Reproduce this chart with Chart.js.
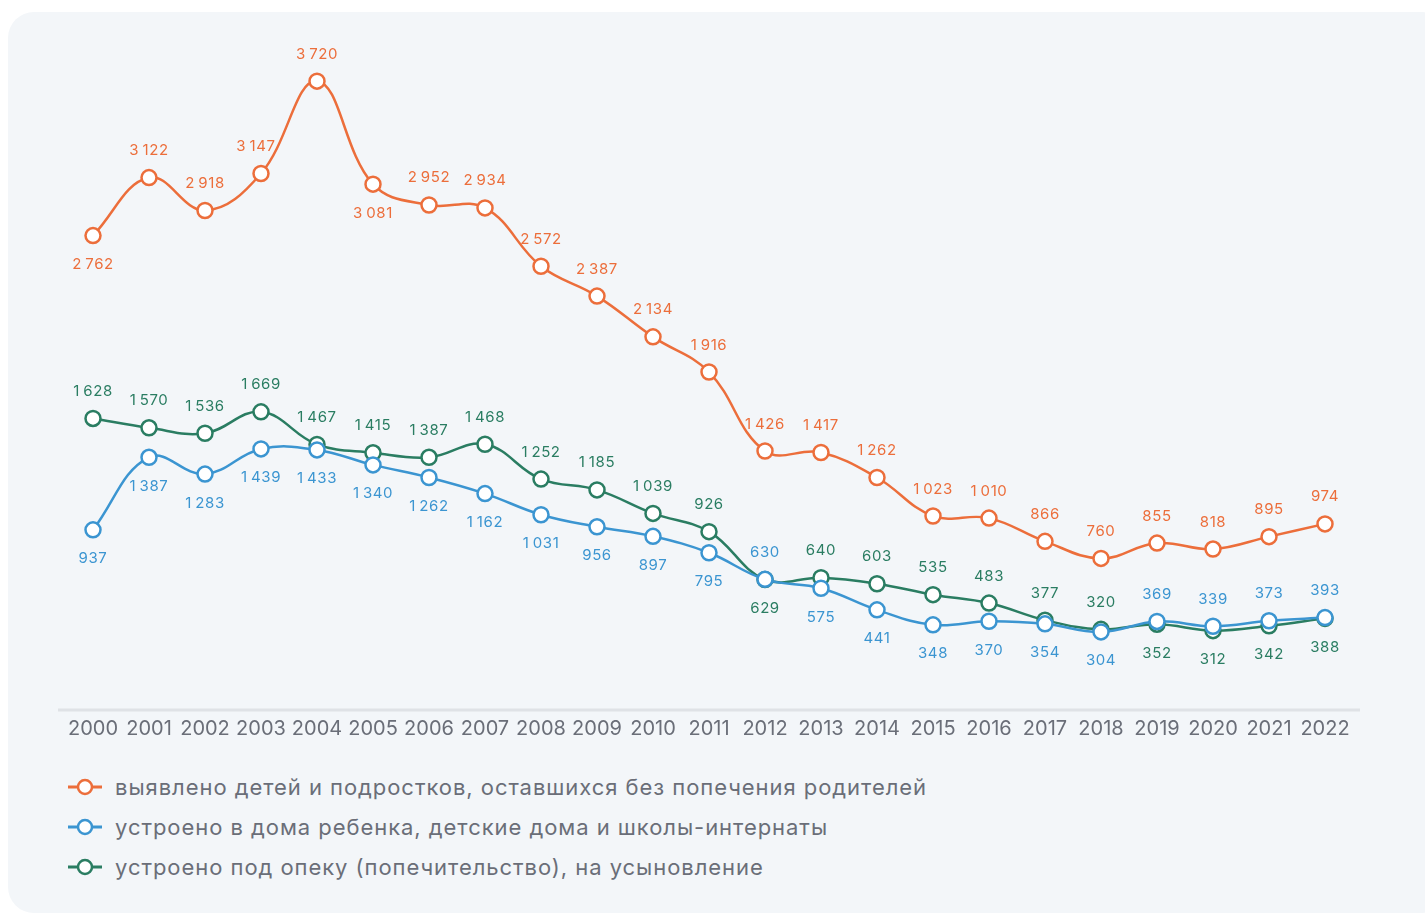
<!DOCTYPE html>
<html>
<head>
<meta charset="utf-8">
<script src="https://cdn.jsdelivr.net/npm/chart.js@4.4.1/dist/chart.umd.min.js"></script>
<style>
  html, body { margin:0; padding:0; background:#ffffff; width:1425px; height:914px; overflow:hidden; font-family: Inter, "Noto Sans", sans-serif; }
  #panel { position:absolute; left:8px; top:12px; width:1440px; height:901px; border-radius:26px; background:#f3f6f9; }
  #wrap { position:absolute; left:0; top:0; width:1425px; height:760px; }
  #legend { position:absolute; left:68px; top:767px; }
  .item { display:flex; align-items:center; height:40px; font-size:22px; color:#6a6e78; letter-spacing:0.95px; }
  .item svg { margin-right:13px; }
</style>
</head>
<body>
<div id="panel"></div>
<div id="wrap"><canvas id="c"></canvas></div>
<div id="legend"></div>
<script>
const years = ['2000','2001','2002','2003','2004','2005','2006','2007','2008','2009','2010','2011','2012','2013','2014','2015','2016','2017','2018','2019','2020','2021','2022'];
const identified = [2762,3122,2918,3147,3720,3081,2952,2934,2572,2387,2134,1916,1426,1417,1262,1023,1010,866,760,855,818,895,974];
const institutions = [937,1387,1283,1439,1433,1340,1262,1162,1031,956,897,795,630,575,441,348,370,354,304,369,339,373,393];
const guardianship = [1628,1570,1536,1669,1467,1415,1387,1468,1252,1185,1039,926,629,640,603,535,483,377,320,352,312,342,388];
const seriesNames = [
  'выявлено детей и подростков, оставшихся без попечения родителей',
  'устроено в дома ребенка, детские дома и школы-интернаты',
  'устроено под опеку (попечительство), на усыновление'
];
const colors = ['#ec6e3b', '#3b95d1', '#2a7d62'];

// label placement (u = above, d = below)
const placeOrange = 'duuuuduuuuuuuuuuuuuuuuu';
const placeBlue   = 'ddddddddddddudddddduuuu';
const placeGreen  = 'uuuuuuuuuuuuduuuuuudddd';
const placements = [placeOrange, placeBlue, placeGreen];

function fmt(v){ return String(v).replace(/\B(?=(\d{3})+(?!\d))/g, '\u2009'); }

const labelPlugin = {
  id: 'pointLabels',
  afterDatasetsDraw(chart) {
    const ctx = chart.ctx;
    ctx.save();
    ctx.font = '15px Inter, "Noto Sans", sans-serif';
    try { ctx.letterSpacing = '0.6px'; } catch(e) {}
    ctx.textAlign = 'center';
    ctx.textBaseline = 'middle';
    chart.data.datasets.forEach((ds, di) => {
      const meta = chart.getDatasetMeta(di);
      ctx.fillStyle = ds.borderColor;
      meta.data.forEach((pt, i) => {
        const up = placements[di][i] === 'u';
        const dy = up ? -27 : 29;
        let dx = 0;
        if (di === 0 && i === 3) dx = -5;
        ctx.fillText(fmt(ds.data[i]), pt.x + dx, pt.y + dy);
      });
    });
    ctx.restore();
  }
};

const axisLinePlugin = {
  id: 'axisLine',
  beforeDatasetsDraw(chart) {
    const a = chart.chartArea;
    const ctx = chart.ctx;
    ctx.save();
    ctx.strokeStyle = '#dfe2e6';
    ctx.lineWidth = 3;
    ctx.beginPath();
    ctx.moveTo(a.left - 35, a.bottom + 1);
    ctx.lineTo(a.right + 35, a.bottom + 1);
    ctx.stroke();
    ctx.restore();
  }
};

const dataArrays = [identified, institutions, guardianship];
const datasets = dataArrays.map((arr, i) => ({
  label: seriesNames[i],
  data: arr,
  borderColor: colors[i],
  backgroundColor: '#ffffff',
  pointBackgroundColor: '#ffffff',
  pointBorderColor: colors[i],
  pointRadius: 7.5,
  pointBorderWidth: 2.5,
  borderWidth: 2.5,
  tension: 0.4,
  fill: false
}));

new Chart(document.getElementById('c'), {
  type: 'line',
  data: { labels: years, datasets },
  options: {
    responsive: true,
    maintainAspectRatio: false,
    animation: false,
    layout: { padding: { left: 93, right: 100, top: 36, bottom: 11 } },
    plugins: { legend: { display: false }, tooltip: { enabled: false } },
    scales: {
      x: {
        offset: false,
        grid: { display: false, drawTicks: false },
        border: { display: false },
        ticks: { color: '#6a6e78', font: { family: 'Inter', size: 20 }, padding: 8, maxRotation: 0, autoSkip: false }
      },
      y: {
        display: false,
        min: -174,
        max: 4000
      }
    }
  },
  plugins: [labelPlugin, axisLinePlugin]
});

const legend = document.getElementById('legend');
seriesNames.forEach((name, i) => {
  const d = document.createElement('div');
  d.className = 'item';
  d.innerHTML = '<svg width="34" height="20" viewBox="0 0 34 20"><line x1="0" y1="10" x2="34" y2="10" stroke="' + colors[i] + '" stroke-width="3"/><circle cx="17" cy="10" r="7" fill="#fff" stroke="' + colors[i] + '" stroke-width="2.5"/></svg><span></span>';
  d.querySelector('span').textContent = name;
  legend.appendChild(d);
});
</script>
</body>
</html>
